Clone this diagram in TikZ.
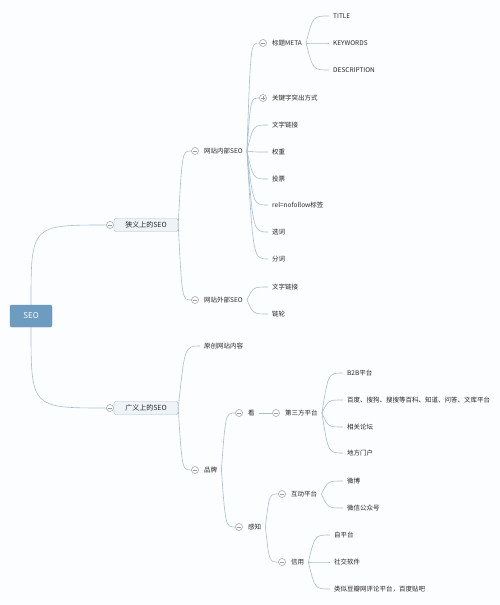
\documentclass[tikz,border=0pt]{standalone}
\usepackage{fontspec}
\newfontfamily\cjk{Noto Sans CJK SC}
\usetikzlibrary{calc}
\definecolor{linec}{HTML}{A9BFCF}
\definecolor{foldc}{HTML}{9C9C9C}
\definecolor{txt}{HTML}{262626}
\definecolor{rootfill}{HTML}{6E9CC1}
\definecolor{rootdraw}{HTML}{5F8DB3}
\definecolor{boxfill}{HTML}{EEF3F8}
\definecolor{boxdraw}{HTML}{A8BED0}
\definecolor{paper}{HTML}{FCFDFE}
\tikzset{
    line/.style={draw=linec, line width=0.6pt},
    topic/.style={anchor=west, inner xsep=4pt, inner ysep=1pt, text=txt,
            font=\cjk\fontsize{6.5}{7}\selectfont},
    rootbox/.style={rectangle, rounded corners=2pt, draw=rootdraw, fill=rootfill,
            minimum width=42pt, minimum height=22pt, text=white,
            font=\cjk\fontsize{8}{9}\selectfont},
    mainbox/.style={rectangle, rounded corners=1.5pt, draw=boxdraw, fill=boxfill,
            minimum width=64pt, minimum height=13pt, inner sep=0pt, text=txt,
            font=\cjk\fontsize{7}{8}\selectfont},
    fold/.style={circle, draw=foldc, fill=white, line width=0.5pt,
            minimum size=7pt, inner sep=0pt,
            path picture={\draw[foldc, line width=0.5pt]
                    ([xshift=-2pt]path picture bounding box.center) --
                    ([xshift=2pt]path picture bounding box.center);}},
    unfold/.style={circle, draw=foldc, fill=white, line width=0.5pt,
            minimum size=7pt, inner sep=0pt,
            path picture={\draw[foldc, line width=0.5pt]
                    ([xshift=-2pt]path picture bounding box.center) --
                    ([xshift=2pt]path picture bounding box.center)
                    ([yshift=-2pt]path picture bounding box.center) --
                    ([yshift=2pt]path picture bounding box.center);}},
}
\newcommand\branch[2]{%
    \path (#1) -- (#1 -| #2) coordinate[pos=0.3] (ctl);
    \draw[line] (#1) .. controls (ctl |- #2) .. (#2);}

\begin{document}
\begin{tikzpicture}[x=1pt, y=-1pt]
        %background and size
        \fill[paper] (0,0) rectangle (500,605);
        \useasboundingbox (0,0) rectangle (500,605);
        %draw root and the two main topics
        \node[rootbox] (seo) at (31,316) {SEO};
        \node[mainbox] (narrow) at (146,225) {狭义上的SEO};
        \node[mainbox] (broad) at (146,408) {广义上的SEO};
        \node[fold] (narrow-f) at (110,225) {};
        \node[fold] (broad-f) at (110,408) {};
        %connect root to main topics
        \draw[line] (seo.north) .. controls (seo.north |- narrow-f.west) .. (narrow-f.west);
        \draw[line] (seo.south) .. controls (seo.south |- broad-f.west) .. (broad-f.west);
        %narrow seo: inner and outer
        \node[fold] (inner-f) at (195,151) {};
        \node[topic] (inner) at (200,151) {网站内部SEO};
        \node[fold] (outer-f) at (195,300) {};
        \node[topic] (outer) at (200,300) {网站外部SEO};
        \branch{narrow.east}{inner-f.west}
        \branch{narrow.east}{outer-f.west}
        %inner seo items
        \node[fold] (meta-f) at (263,43) {};
        \node[topic] (meta) at (268,43) {标题META};
        \node[unfold] (kw-f) at (263,98) {};
        \node[topic] (kw) at (268,98) {关键字突出方式};
        \branch{inner.east}{meta-f.west}
        \branch{inner.east}{kw-f.west}
        \foreach \name/\y/\txt in {link/125/文字链接, weight/152/权重, vote/179/投票,
                nofollow/205/rel=nofollow标签, pick/232/选词, split/259/分词}{
            \node[topic] (\name) at (268,\y) {\txt};
            \branch{inner.east}{\name.west}
        }
        %meta items
        \foreach \name/\y/\txt in {title/16/TITLE, keywords/43/KEYWORDS, desc/70/DESCRIPTION}{
            \node[topic] (\name) at (329,\y) {\txt};
            \branch{meta.east}{\name.west}
        }
        %outer seo items
        \foreach \name/\y/\txt in {olink/287/文字链接, chain/314/链轮}{
            \node[topic] (\name) at (268,\y) {\txt};
            \branch{outer.east}{\name.west}
        }
        %broad seo: content and brand
        \node[topic] (original) at (200,346) {原创网站内容};
        \node[fold] (brand-f) at (195,470) {};
        \node[topic] (brand) at (200,470) {品牌};
        \branch{broad.east}{original.west}
        \branch{broad.east}{brand-f.west}
        %brand: look and sense
        \node[fold] (look-f) at (239,413) {};
        \node[topic] (look) at (244,413) {看};
        \node[fold] (sense-f) at (239,527) {};
        \node[topic] (sense) at (244,527) {感知};
        \branch{brand.east}{look-f.west}
        \branch{brand.east}{sense-f.west}
        %look: third party platforms
        \node[fold] (third-f) at (276,413) {};
        \node[topic] (third) at (281,413) {第三方平台};
        \draw[line] (look.east) -- (third-f.west);
        \foreach \name/\y/\txt in {b2b/373/B2B平台, baike/400/百度、搜狗、搜搜等百科、知道、问答、文库平台,
                forum/427/相关论坛, portal/453/地方门户}{
            \node[topic] (\name) at (343,\y) {\txt};
            \branch{third.east}{\name.west}
        }
        %sense: interaction and credit
        \node[fold] (inter-f) at (282,494) {};
        \node[topic] (inter) at (287,494) {互动平台};
        \node[fold] (credit-f) at (282,562) {};
        \node[topic] (credit) at (287,562) {信用};
        \branch{sense.east}{inter-f.west}
        \branch{sense.east}{credit-f.west}
        \foreach \name/\y/\txt in {weibo/481/微博, wechat/508/微信公众号}{
            \node[topic] (\name) at (343,\y) {\txt};
            \branch{inter.east}{\name.west}
        }
        \foreach \name/\y/\txt in {self/535/自平台, social/562/社交软件, douban/589/类似豆瓣网评论平台，百度贴吧}{
            \node[topic] (\name) at (330,\y) {\txt};
            \branch{credit.east}{\name.west}
        }
    \end{tikzpicture}
\end{document}
